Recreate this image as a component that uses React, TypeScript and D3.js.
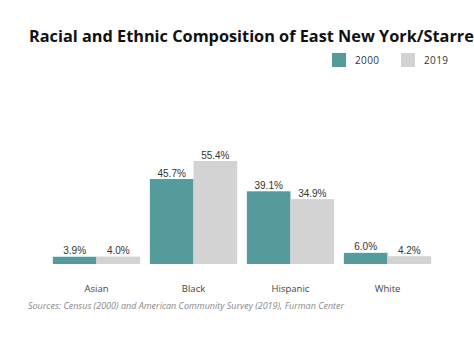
import React from "react";
import * as d3 from "d3";

const categories = ["Asian", "Black", "Hispanic", "White"];
const series = ["2000", "2019"];
const values2000 = [3.9, 45.7, 39.1, 6.0];
const values2019 = [4.0, 55.4, 34.9, 4.2];
const colors = ["#559b9c", "#d3d3d3"];

const W = 474;
const H = 338;

export default function App() {
  const x = d3.scaleBand<string>().domain(categories).range([48, 436]).paddingInner(0.1).paddingOuter(0.05);
  const inner = d3.scaleBand<string>().domain(series).range([0, x.bandwidth()]);
  const y = d3.scaleLinear().domain([0, 55.4]).range([264, 161]);
  const data = [values2000, values2019];
  return (
    <svg width={W} height={H} style={{ position: "absolute", left: 0, top: 0, background: "#fff" }}>
      <text x={29} y={42} fontFamily="Open Sans" fontWeight={700} fontSize={16.3} fill="#111">
        Racial and Ethnic Composition of East New York/Starrett City
      </text>
      {series.map((s, i) => (
        <g key={s}>
          <rect x={332 + i * 69} y={53} width={14} height={14} fill={colors[i]} />
          <text x={355 + i * 69} y={64} fontFamily="Open Sans" fontSize={10} letterSpacing={0.4} fill="#333">{s}</text>
        </g>
      ))}
      {categories.map((c, ci) => (
        <g key={c}>
          {series.map((s, si) => {
            const v = data[si][ci];
            const bx = (x(c) as number) + (inner(s) as number);
            return (
              <g key={s}>
                <rect x={bx} y={y(v)} width={inner.bandwidth()} height={264 - y(v)} fill={colors[si]} />
                <text x={bx + inner.bandwidth() / 2} y={y(v) - 2.5} textAnchor="middle" fontFamily="Liberation Sans" fontSize={10} fill="#333">
                  {v.toFixed(1) + "%"}
                </text>
              </g>
            );
          })}
          <text x={(x(c) as number) + x.bandwidth() / 2} y={291.5} textAnchor="middle" fontFamily="Open Sans" fontSize={9.5} fill="#444">
            {c}
          </text>
        </g>
      ))}
      <text x={28} y={309} fontFamily="Open Sans" fontStyle="italic" fontSize={9} fill="#888">
        Sources: Census (2000) and American Community Survey (2019), Furman Center
      </text>
    </svg>
  );
}
